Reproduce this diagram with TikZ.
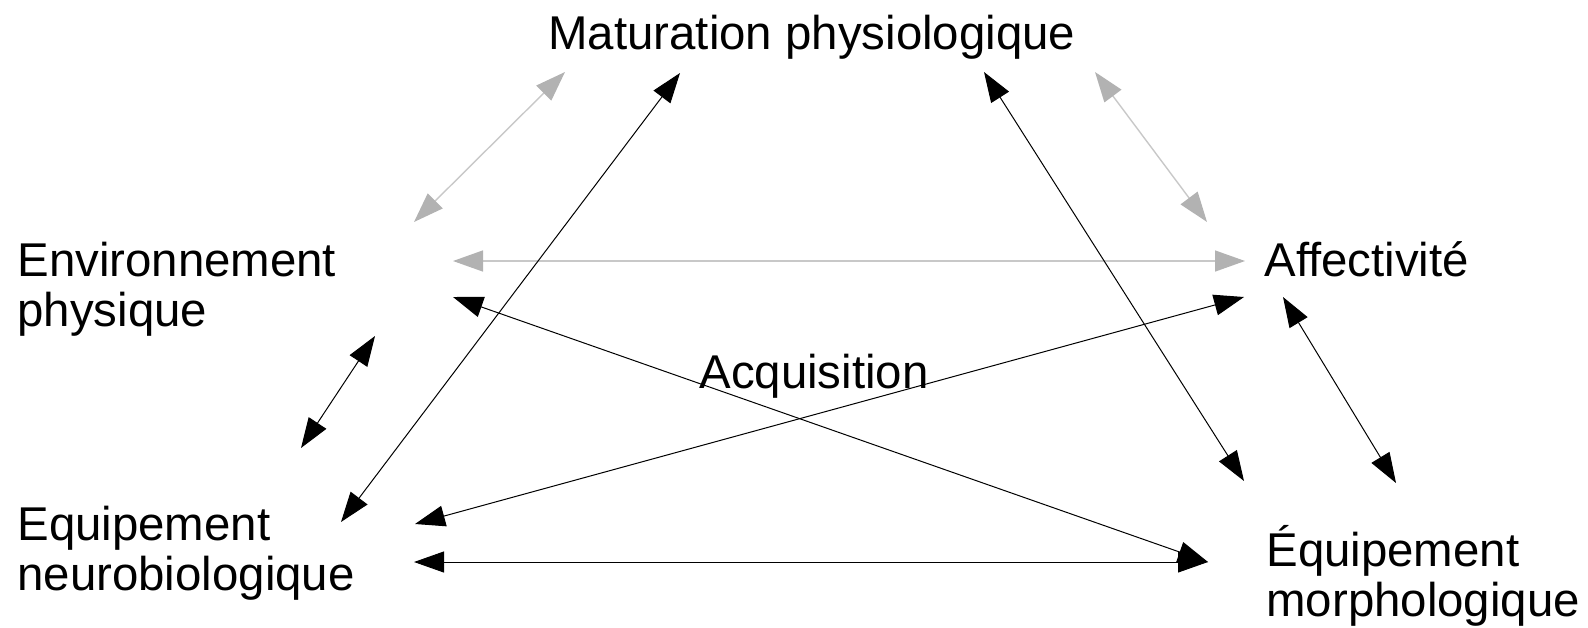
\documentclass[tikz,border=0pt]{standalone}
\usepackage{fontspec}
\setmainfont{Liberation Sans}
\usetikzlibrary{arrows.meta}
\definecolor{tipgray}{RGB}{178,178,178}
\definecolor{linkgray}{RGB}{200,200,200}
\tikzset{
	txt/.style={inner sep=0pt, anchor=base west, align=left, font=\fontsize{23.7}{25}\selectfont},
	link/.style={line width=0.5pt, {Triangle[length=15pt,width=10.5pt]}-{Triangle[length=15pt,width=10.5pt]}},
	softlink/.style={linkgray, line width=0.7pt, {Triangle[length=15pt,width=10.5pt,color=tipgray]}-{Triangle[length=15pt,width=10.5pt,color=tipgray]}}
}
\begin{document}
\begin{tikzpicture}[x=0.5pt, y=-0.5pt]
		\useasboundingbox (0,0) rectangle (1588,627);
		% labels (two-line labels sit on their last line)
		\node[txt] (mat) at (548,49) {Maturation physiologique};
		\node[txt] (env) at (17,326) {Environnement\\physique};
		\node[txt] (aff) at (1264,276) {Affectivité};
		\node[txt] (acq) at (699,388) {Acquisition};
		\node[txt] (neuro) at (17,590) {Equipement\\neurobiologique};
		\node[txt] (morph) at (1266,616) {Équipement\\morphologique};
		% arrow ends
		\coordinate (mat-g) at (565,72);
		\coordinate (mat-n) at (680,73);
		\coordinate (mat-m) at (984,72);
		\coordinate (mat-a) at (1095,72);
		\coordinate (env-m) at (414,222);
		\coordinate (env-a) at (453,261);
		\coordinate (env-r) at (453,297);
		\coordinate (env-n) at (375,336);
		\coordinate (aff-m) at (1207,222);
		\coordinate (aff-e) at (1245,261);
		\coordinate (aff-n) at (1244,297);
		\coordinate (aff-r) at (1283,297);
		\coordinate (neuro-e) at (301,448);
		\coordinate (neuro-m) at (341,522);
		\coordinate (neuro-a) at (415,524);
		\coordinate (neuro-r) at (414,562);
		\coordinate (morph-m) at (1244,481);
		\coordinate (morph-a) at (1396,483);
		\coordinate (morph-e) at (1208,562);
		\coordinate (morph-n) at (1208,562);
		% grey links
		\draw[softlink] (env-m) -- (mat-g);
		\draw[softlink] (env-a) -- (aff-e);
		\draw[softlink] (mat-a) -- (aff-m);
		% black links
		\draw[link] (neuro-m) -- (mat-n);
		\draw[link] (mat-m) -- (morph-m);
		\draw[link] (neuro-e) -- (env-n);
		\draw[link] (aff-r) -- (morph-a);
		\draw[link] (env-r) -- (morph-e);
		\draw[link] (neuro-a) -- (aff-n);
		\draw[link] (neuro-r) -- (morph-n);
\end{tikzpicture}
\end{document}
